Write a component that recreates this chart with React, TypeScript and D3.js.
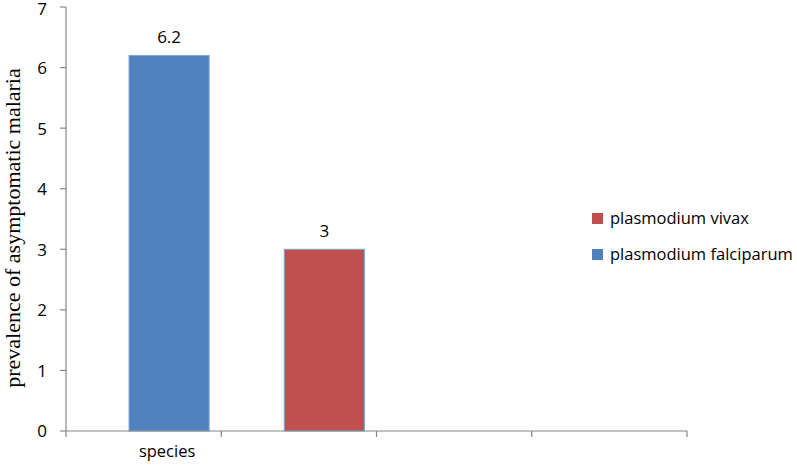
import React from "react";
import * as d3 from "d3";

const slotLabels = ["species", "", "", ""];
const seriesNames = ["plasmodium falciparum", "plasmodium vivax"];
const seriesValues = [6.2, 3];
const seriesSlot = [0, 1];
const seriesColors = ["#4F81BD", "#C0504D"];
const yTicks = [0, 1, 2, 3, 4, 5, 6, 7];
const legendOrder = [1, 0];

const W = 797;
const H = 466;
const FONT = "'Open Sans', sans-serif";
const AXIS = "#868686";

export default function App() {
  const x = d3
    .scaleBand<number>()
    .domain(d3.range(slotLabels.length))
    .range([66, 687])
    .padding(0);
  const y = d3.scaleLinear().domain([0, 7]).range([431, 7]);
  const bw = x.bandwidth();
  const barX = (i: number) => (x(seriesSlot[i]) as number) + bw * 0.406;
  const barW = bw * 0.516;
  const bounds = [...d3.range(slotLabels.length).map((i) => x(i) as number), 687];

  return (
    <svg
      width={W}
      height={H}
      style={{ position: "absolute", left: 0, top: 0, background: "#fff" }}
    >
      {/* y axis title */}
      <text
        transform="translate(20,228) rotate(-90)"
        textAnchor="middle"
        fontFamily="'Liberation Serif', 'Times New Roman', serif"
        fontSize={22}
        fill="#000"
      >
        prevalence of asymptomatic malaria
      </text>

      {/* y axis */}
      <line x1={66} x2={66} y1={y(7)} y2={y(0)} stroke={AXIS} strokeWidth={1.2} />
      {yTicks.map((t) => (
        <g key={t}>
          <line x1={60} x2={66} y1={y(t)} y2={y(t)} stroke={AXIS} strokeWidth={1.2} />
          <text
            x={47}
            y={Math.max(y(t), 9)}
            dy="0.38em"
            textAnchor="end"
            fontFamily={FONT}
            fontSize={17}
            fill="#000"
          >
            {t}
          </text>
        </g>
      ))}

      {/* bars */}
      {seriesValues.map((v, i) => (
        <g key={i}>
          <rect
            x={barX(i)}
            y={y(v)}
            width={barW}
            height={y(0) - y(v)}
            fill={seriesColors[i]}
            stroke="#7FA6DA"
            strokeWidth={1}
          />
          <text
            x={barX(i) + barW / 2}
            y={y(v) - 12}
            textAnchor="middle"
            fontFamily={FONT}
            fontSize={17}
            fill="#000"
          >
            {v}
          </text>
        </g>
      ))}

      {/* x axis */}
      <line x1={66} x2={687} y1={y(0)} y2={y(0)} stroke={AXIS} strokeWidth={1.2} />
      {bounds.map((b, i) => (
        <line key={i} x1={b} x2={b} y1={y(0)} y2={y(0) + 6} stroke={AXIS} strokeWidth={1.2} />
      ))}
      {slotLabels.map((l, i) =>
        l ? (
          <text
            key={i}
            x={(x(i) as number) + bw * 0.406 + barW / 2 - 2}
            y={457}
            textAnchor="middle"
            fontFamily={FONT}
            fontSize={16.5}
            fill="#000"
          >
            {l}
          </text>
        ) : null
      )}

      {/* legend */}
      {legendOrder.map((s, k) => (
        <g key={s} transform={`translate(592,${213 + k * 36})`}>
          <rect x={0} y={0} width={11} height={11} fill={seriesColors[s]} />
          <text x={18} y={11} fontFamily={FONT} fontSize={16.5} fill="#000">
            {seriesNames[s]}
          </text>
        </g>
      ))}
    </svg>
  );
}
